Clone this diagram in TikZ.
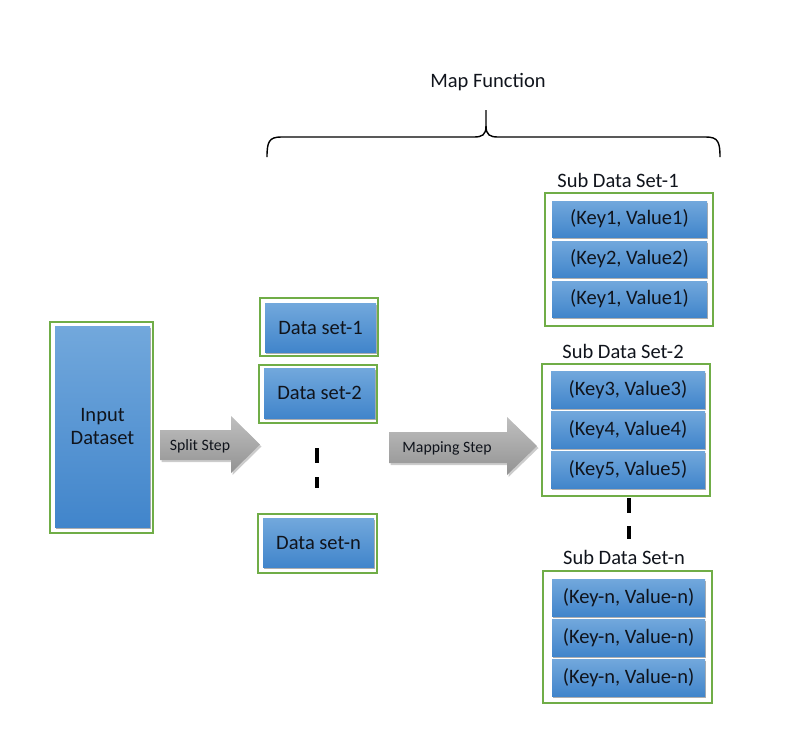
\documentclass[tikz,border=0pt]{standalone}
\usepackage{fontspec}
\setmainfont{Carlito}
\usetikzlibrary{shadows}
\definecolor{gbord}{HTML}{70AD47}
\definecolor{btop}{HTML}{72A8DC}
\definecolor{bbot}{HTML}{4185CB}
\definecolor{txt}{HTML}{10141C}
\tikzset{
  outerbox/.style={draw=gbord, line width=2pt, fill=white, inner sep=0pt},
  bluebox/.style={top color=btop, bottom color=bbot, inner sep=0pt, text=txt,
    font=\fontsize{20.5}{23}\selectfont, align=center,
    drop shadow={shadow xshift=1.2pt, shadow yshift=-2pt, opacity=0.45, fill=black!70}},
  greyarrow/.style={top color=gray!50, bottom color=gray!85,
    drop shadow={shadow xshift=1.5pt, shadow yshift=-2pt, opacity=0.4}},
  arrowtext/.style={text=txt, font=\fontsize{15.8}{18}\selectfont, inner sep=0pt},
  lbl/.style={text=txt, font=\fontsize{20.5}{23}\selectfont, inner sep=0pt},
  dashbar/.style={line width=3.5pt, black},
}
\begin{document}
\begin{tikzpicture}[x=1pt,y=-1pt]
\useasboundingbox (0,0) rectangle (792,753);

% Input dataset
\node[outerbox, minimum width=103pt, minimum height=211pt] (inO) at (101.5,427.5) {};
\node[bluebox, minimum width=95pt, minimum height=201pt] (in) at (102.5,426.5) {Input\\Dataset};

% Split arrow
\path[greyarrow] (160,430) -- (231,430) -- (231,416) -- (260,444.5) -- (231,473) -- (231,460) -- (160,460) -- cycle;
\node[arrowtext] (split) at (200,446) {Split Step};

% Data sets
\node[outerbox, minimum width=118pt, minimum height=58pt] (d1O) at (319,327) {};
\node[bluebox, minimum width=111pt, minimum height=49pt] (d1) at (320.5,327.5) {Data set-1};
\node[outerbox, minimum width=118pt, minimum height=58pt] (d2O) at (318,394) {};
\node[bluebox, minimum width=111pt, minimum height=50pt] (d2) at (319.5,393) {Data set-2};
\node[outerbox, minimum width=119pt, minimum height=59pt] (dnO) at (317.5,543.5) {};
\node[bluebox, minimum width=111pt, minimum height=49pt] (dn) at (318.5,542.5) {Data set-n};
\draw[dashbar] (317,448) -- (317,463);
\draw[dashbar] (317,477) -- (317,488);

% Mapping arrow
\path[greyarrow] (389,432) -- (507,432) -- (507,417) -- (537,446) -- (507,475) -- (507,463) -- (389,463) -- cycle;
\node[arrowtext] (map) at (447,448) {Mapping Step};

% Map function brace
\node[lbl] (mf) at (488,82) {Map Function};
\draw[line width=1.4pt, black]
  (267,157) .. controls (267,142) and (269,137) .. (281,137) -- (474,137)
  .. controls (482,137) and (486,135) .. (486,126) -- (486,110);
\draw[line width=1.4pt, black]
  (720,157) .. controls (720,142) and (718,137) .. (706,137) -- (498,137)
  .. controls (490,137) and (486,135) .. (486,126);

% Sub data set 1
\node[lbl] (s1l) at (618,180) {Sub Data Set-1};
\node[outerbox, minimum width=168pt, minimum height=133pt] (s1O) at (629,259.5) {};
\node[bluebox, minimum width=155pt, minimum height=36pt] (s1a) at (629.5,219) {(Key1, Value1)};
\node[bluebox, minimum width=155pt, minimum height=36pt] (s1b) at (629.5,259) {(Key2, Value2)};
\node[bluebox, minimum width=155pt, minimum height=36pt] (s1c) at (629.5,299) {(Key1, Value1)};

% Sub data set 2
\node[lbl] (s2l) at (623,351) {Sub Data Set-2};
\node[outerbox, minimum width=168pt, minimum height=132pt] (s2O) at (626,430) {};
\node[bluebox, minimum width=154pt, minimum height=37pt] (s2a) at (628,389.5) {(Key3, Value3)};
\node[bluebox, minimum width=154pt, minimum height=37pt] (s2b) at (628,429.5) {(Key4, Value4)};
\node[bluebox, minimum width=154pt, minimum height=37pt] (s2c) at (628,469.5) {(Key5, Value5)};

\draw[dashbar] (629,498) -- (629,513);
\draw[dashbar] (629,526) -- (629,539);

% Sub data set n
\node[lbl] (snl) at (624,557) {Sub Data Set-n};
\node[outerbox, minimum width=169pt, minimum height=132pt] (snO) at (627.5,637) {};
\node[bluebox, minimum width=153pt, minimum height=37pt] (sna) at (628.5,597.5) {(Key-n, Value-n)};
\node[bluebox, minimum width=153pt, minimum height=37pt] (snb) at (628.5,637.5) {(Key-n, Value-n)};
\node[bluebox, minimum width=153pt, minimum height=37pt] (snc) at (628.5,677.5) {(Key-n, Value-n)};
\end{tikzpicture}
\end{document}
